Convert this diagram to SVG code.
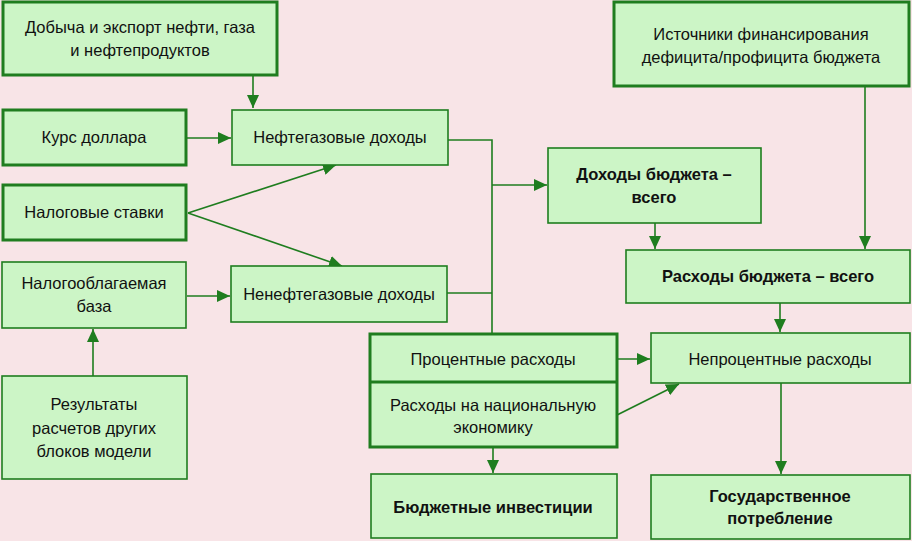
<svg xmlns="http://www.w3.org/2000/svg" width="912" height="541" viewBox="0 0 912 541">
<defs>
<style>
.bx{fill:#ccf5c6;stroke:#1f7d1f;stroke-width:1.6}
.tk{stroke-width:3}
.t{font-family:"Liberation Sans Narrow","Liberation Sans",Arial,sans-serif;font-size:16.5px;fill:#111;text-anchor:middle}
.b{font-weight:bold}
.c{fill:none;stroke:#1f7d1f;stroke-width:1.6}
</style>
<marker id="ah" markerUnits="userSpaceOnUse" markerWidth="14" markerHeight="12" refX="13" refY="6" orient="auto">
<path d="M0,0 L13,6 L0,12 Z" fill="#1f7d1f"/>
</marker>
</defs>
<rect width="912" height="541" fill="#f8e4e7"/>

<g id="connectors">
<path class="c" d="M253,76 V108" marker-end="url(#ah)"/>
<path class="c" d="M187,138 H231" marker-end="url(#ah)"/>
<path class="c" d="M188,213 L336,165" marker-end="url(#ah)"/>
<path class="c" d="M188,213 L342,266" marker-end="url(#ah)"/>
<path class="c" d="M187,296 H230" marker-end="url(#ah)"/>
<path class="c" d="M93,376 V329" marker-end="url(#ah)"/>
<path class="c" d="M448,140 H492 V334"/>
<path class="c" d="M447,293 H492"/>
<path class="c" d="M492,185 H547" marker-end="url(#ah)"/>
<path class="c" d="M655,223 V249" marker-end="url(#ah)"/>
<path class="c" d="M865,86 V249" marker-end="url(#ah)"/>
<path class="c" d="M780,303 V332" marker-end="url(#ah)"/>
<path class="c" d="M617,359 H650" marker-end="url(#ah)"/>
<path class="c" d="M617,415 L679,384" marker-end="url(#ah)"/>
<path class="c" d="M493,447 V473" marker-end="url(#ah)"/>
<path class="c" d="M781,383 V474" marker-end="url(#ah)"/>
</g>

<g id="n-dobycha">
<rect class="bx tk" x="3" y="2" width="274" height="73"/>
<text class="t" x="140" y="33">Добыча и экспорт нефти, газа</text>
<text class="t" x="140" y="56">и нефтепродуктов</text>
</g>
<g id="n-kurs">
<rect class="bx tk" x="3" y="110" width="183" height="55"/>
<text class="t" x="94" y="143">Курс доллара</text>
</g>
<g id="n-neftegaz">
<rect class="bx" x="232" y="110" width="216" height="55"/>
<text class="t" x="340" y="143">Нефтегазовые доходы</text>
</g>
<g id="n-nalog-stavki">
<rect class="bx tk" x="3" y="185" width="183" height="55"/>
<text class="t" x="94" y="218">Налоговые ставки</text>
</g>
<g id="n-nalog-baza">
<rect class="bx" x="2" y="262" width="184" height="66"/>
<text class="t" x="94" y="289">Налогооблагаемая</text>
<text class="t" x="94" y="312">база</text>
</g>
<g id="n-nenefte">
<rect class="bx" x="231" y="266" width="216" height="56"/>
<text class="t" x="339" y="300">Ненефтегазовые доходы</text>
</g>
<g id="n-rezultaty">
<rect class="bx" x="2" y="376" width="185" height="103"/>
<text class="t" x="94" y="410">Результаты</text>
<text class="t" x="94" y="434">расчетов других</text>
<text class="t" x="94" y="457">блоков модели</text>
</g>
<g id="n-dohody">
<rect class="bx" x="548" y="148" width="213" height="75"/>
<text class="t b" x="654" y="180">Доходы бюджета –</text>
<text class="t b" x="654" y="203">всего</text>
</g>
<g id="n-istochniki">
<rect class="bx tk" x="614" y="2" width="295" height="84"/>
<text class="t" x="761" y="40">Источники финансирования</text>
<text class="t" x="761" y="63">дефицита/профицита бюджета</text>
</g>
<g id="n-rashody">
<rect class="bx" x="626" y="250" width="284" height="53"/>
<text class="t b" x="768" y="282">Расходы бюджета – всего</text>
</g>
<g id="n-procent">
<rect class="bx tk" x="370" y="334" width="247" height="113"/>
<line x1="370" y1="382" x2="617" y2="382" stroke="#1f7d1f" stroke-width="3"/>
<text class="t" x="493" y="365">Процентные расходы</text>
<text class="t" x="493" y="411">Расходы на национальную</text>
<text class="t" x="493" y="433">экономику</text>
</g>
<g id="n-investicii">
<rect class="bx" x="371" y="474" width="246" height="64"/>
<text class="t b" x="493" y="513">Бюджетные инвестиции</text>
</g>
<g id="n-neprocent">
<rect class="bx" x="651" y="333" width="259" height="50"/>
<text class="t" x="780" y="365">Непроцентные расходы</text>
</g>
<g id="n-gospotr">
<rect class="bx" x="651" y="475" width="259" height="64"/>
<text class="t b" x="780" y="502">Государственное</text>
<text class="t b" x="780" y="524">потребление</text>
</g>
</svg>
